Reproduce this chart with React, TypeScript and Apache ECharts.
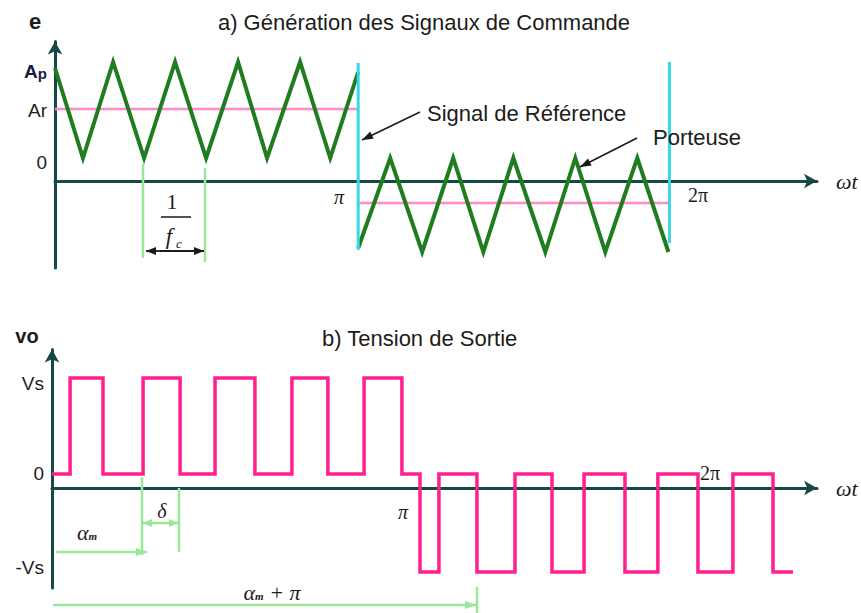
import React, { useEffect, useRef } from "react";
import * as echarts from "echarts";

// ---------- (a) Génération des signaux de commande — ωt in degrees (π = 180)
const carrierPosX = [0, 16.6, 34.5, 52.9, 71.3, 89.7, 108.7, 125.9, 145.5, 163.4, 180];
const carrierPosY = [1.13, 0.23, 1.19, 0.23, 1.19, 0.23, 1.19, 0.23, 1.19, 0.23, 1.09];
const carrierNegX = [180, 199.0, 218.0, 236.4, 254.3, 272.1, 291.1, 308.9, 326.7, 345.7, 364.2];
const carrierNegY = [-0.67, 0.23, -0.71, 0.23, -0.71, 0.23, -0.71, 0.23, -0.71, 0.23, -0.71];
const refPosX = [0, 180];
const refPosLevel = 0.72;
const refNegX = [180, 364];
const refNegLevel = -0.22;
const halfMarkerX = [180, 364.8];
const halfMarkerTop = [1.18, 1.19];
const halfMarkerBottom = [-0.69, -0.62];
const topTickValues = [1.1, 0.71, 0.19];
const topTickLabels = ["Ap", "Ar", "0"];

// ---------- (b) Tension de sortie
const outputX = [0, 8.8, 24.8, 44.3, 62.3, 79.3, 98.7, 116.7, 134.2, 151.8, 170.2, 179.0, 188.2, 206.7, 225.2, 243.2, 258.8, 278.7, 294.7, 314.2, 331.2, 350.7, 360.4];
const outputY = [0.14, 1.1, 0.14, 1.1, 0.14, 1.1, 0.14, 1.1, 0.14, 1.1, 0.14, -0.84, 0.14, -0.84, 0.14, -0.84, 0.14, -0.84, 0.14, -0.84, 0.14, -0.84, -0.84];
const bottomTickValues = [1.05, 0.15, -0.79];
const bottomTickLabels = ["Vs", "0", "-Vs"];

const SANS = '"Liberation Sans", Arial, sans-serif';
const SERIF = '"Liberation Serif", "Times New Roman", serif';
const AX = "#164848";
const TXT = "#1c1c1c";
const LGREEN = "#98e898";

function head(x1: number, y1: number, x2: number, y2: number, len: number, w: number, color: string) {
  const dx = x2 - x1, dy = y2 - y1;
  const L = Math.hypot(dx, dy);
  const ux = dx / L, uy = dy / L;
  const bx = x2 - ux * len, by = y2 - uy * len;
  const px = (-uy * w) / 2, py = (ux * w) / 2;
  return {
    type: "polygon",
    silent: true,
    z: 20,
    shape: { points: [[x2, y2], [bx + px, by + py], [bx - px, by - py]] },
    style: { fill: color },
  };
}
function seg(x1: number, y1: number, x2: number, y2: number, color: string, width: number) {
  return { type: "line", silent: true, z: 20, shape: { x1, y1, x2, y2 }, style: { stroke: color, lineWidth: width } };
}
function arrow(x1: number, y1: number, x2: number, y2: number, color: string, width: number, both = false, len = 11, w = 8) {
  const out: any[] = [seg(x1, y1, x2, y2, color, width), head(x1, y1, x2, y2, len, w, color)];
  if (both) out.push(head(x2, y2, x1, y1, len, w, color));
  return out;
}
function txt(text: string, x: number, y: number, font: string, align = "center", fill = TXT, rich?: any) {
  return {
    type: "text",
    silent: true,
    z: 25,
    x,
    y,
    style: { text, font, fill, align, verticalAlign: "middle", rich },
  };
}

export default function App() {
  const ref = useRef<HTMLDivElement>(null);
  useEffect(() => {
    if (!ref.current) return;
    const chart = echarts.init(ref.current, undefined, { renderer: "svg" });

    const pair = (xs: number[], ys: number[]) => xs.map((x, i) => [x, ys[i]]);
    const lineSeries = (name: string, idx: number, data: any[], color: string, width: number, extra: any = {}) => ({
      type: "line",
      name,
      xAxisIndex: idx,
      yAxisIndex: idx,
      data,
      symbol: "none",
      showSymbol: false,
      silent: true,
      clip: false,
      animation: false,
      lineStyle: { color, width, join: "miter" },
      itemStyle: { color },
      ...extra,
    });

    const axisLine = { show: true, onZero: true, symbol: ["none", "arrow"], symbolSize: [11, 13], lineStyle: { color: AX, width: 3 } };

    const xAxis = (gridIndex: number, max: number) => ({
      type: "value",
      gridIndex,
      min: 0,
      max,
      axisLine,
      axisTick: { show: false },
      axisLabel: { show: false },
      splitLine: { show: false },
    });
    const labelOf = (vals: number[], labels: string[]) => (v: number) => {
      const i = vals.findIndex((t) => Math.abs(t - v) < 1e-6);
      const s = i >= 0 ? labels[i] : "";
      return s === "Ap" ? "{a|A}{p|p}" : s;
    };
    const yAxis = (gridIndex: number, min: number, max: number, vals: number[], labels: string[]) => ({
      type: "value",
      gridIndex,
      min,
      max,
      axisLine: { ...axisLine, onZero: false },
      axisTick: { show: false },
      splitLine: { show: false },
      axisLabel: {
        show: true,
        customValues: vals,
        formatter: labelOf(vals, labels),
        margin: 8,
        color: TXT,
        fontSize: 19,
        fontFamily: SANS,
        rich: {
          a: { fontSize: 19, fontWeight: "bold", color: "#1b1b48", fontFamily: SANS },
          p: { fontSize: 15, fontWeight: "bold", color: "#1b1b48", fontFamily: SANS, padding: [4, 0, 0, 0] },
        },
      },
    });

    const graphic: any[] = [
      // titles and axis names
      txt("a) Génération des Signaux de Commande", 424, 22, `22px ${SANS}`),
      txt("b) Tension de Sortie", 322, 338, `22px ${SANS}`, "left"),
      txt("e", 35, 21, `bold 22px ${SANS}`),
      txt("vo", 27, 336, `bold 20px ${SANS}`),
      txt("ωt", 836, 181, `italic 22px ${SERIF}`, "left"),
      txt("ωt", 836, 488, `italic 22px ${SERIF}`, "left"),
      txt("π", 339, 197, `italic 20px ${SERIF}`),
      txt("2π", 698, 195, `20px ${SERIF}`),
      txt("π", 403, 512, `italic 20px ${SERIF}`),
      txt("2π", 710, 473, `20px ${SERIF}`),
      // callouts
      txt("Signal de Référence", 427, 113, `22px ${SANS}`, "left"),
      ...arrow(420, 112, 362, 140, "#1a1a1a", 1.5),
      txt("Porteuse", 653, 137, `22px ${SANS}`, "left"),
      ...arrow(637, 138, 580, 167, "#1a1a1a", 1.5),
      // 1/fc period
      seg(143, 164, 143, 258, LGREEN, 2.5),
      seg(205, 168, 205, 262, LGREEN, 2.5),
      txt("1", 172, 201, `22px ${SERIF}`),
      seg(161, 217, 191, 217, "#1a1a1a", 1.5),
      txt("f", 169, 236, `italic 23px ${SERIF}`),
      txt("c", 179, 243, `italic 13px ${SERIF}`),
      ...arrow(160, 251, 146, 251, "#1a1a1a", 1.8, false, 10, 8),
      ...arrow(160, 251, 204, 251, "#1a1a1a", 1.8, false, 10, 8),
      // δ and α_m
      seg(142, 477, 142, 555, LGREEN, 2.5),
      seg(179, 488, 179, 552, LGREEN, 2.5),
      ...arrow(160, 523, 143, 523, LGREEN, 2.5, false, 9, 8),
      ...arrow(160, 523, 178, 523, LGREEN, 2.5, false, 9, 8),
      txt("δ", 162, 511, `italic 20px ${SERIF}`),
      ...arrow(56, 552, 147, 552, LGREEN, 2.5, false, 11, 8),
      txt("{a|α}{m|m}", 87, 532, `italic 22px ${SERIF}`, "center", TXT, {
        a: { font: `italic 22px ${SERIF}`, fill: TXT },
        m: { font: `italic bold 11px ${SERIF}`, fill: TXT, padding: [8, 0, 0, 0] },
      }),
      ...arrow(53, 605, 477, 605, LGREEN, 2.5, false, 12, 8),
      seg(477, 587, 477, 613, LGREEN, 2.5),
      txt("{a|α}{m|m}{b| + π}", 272, 592, `italic 22px ${SERIF}`, "center", TXT, {
        a: { font: `italic 22px ${SERIF}`, fill: TXT },
        m: { font: `italic bold 11px ${SERIF}`, fill: TXT, padding: [8, 0, 0, 0] },
        b: { font: `italic 22px ${SERIF}`, fill: TXT },
      }),
    ];

    chart.setOption({
      animation: false,
      backgroundColor: "#ffffff",
      grid: [
        { left: 55, right: 44, top: 41.5, bottom: 345 },
        { left: 52, right: 44, top: 349.5, bottom: 25 },
      ],
      xAxis: [xAxis(0, 452.4), xAxis(1, 372.1)],
      yAxis: [
        yAxis(0, -0.87, 1.395, topTickValues, topTickLabels),
        yAxis(1, -1.0, 1.385, bottomTickValues, bottomTickLabels),
      ],
      series: [
        lineSeries("Référence +", 0, refPosX.map((x) => [x, refPosLevel]), "#ff8cc6", 2.5, { z: 2 }),
        lineSeries("Référence -", 0, refNegX.map((x) => [x, refNegLevel]), "#ff8cc6", 2.5, { z: 2 }),
        lineSeries("Porteuse +", 0, pair(carrierPosX, carrierPosY), "#1f7d1f", 4, { z: 3 }),
        lineSeries("Porteuse -", 0, pair(carrierNegX, carrierNegY), "#1f7d1f", 4, { z: 3 }),
        ...halfMarkerX.map((x, i) =>
          lineSeries("Demi-période " + i, 0, [[x, halfMarkerTop[i]], [x, halfMarkerBottom[i]]], "#3ad6ea", 3, { z: 4 })
        ),
        lineSeries("vo", 1, pair(outputX, outputY), "#ff1f8e", 3.5, { step: "end", z: 3 }),
      ],
      graphic,
    });
    return () => chart.dispose();
  }, []);

  return (
    <div
      ref={ref}
      style={{ position: "fixed", left: 0, top: 0, width: 861, height: 613, background: "#fff" }}
    />
  );
}
